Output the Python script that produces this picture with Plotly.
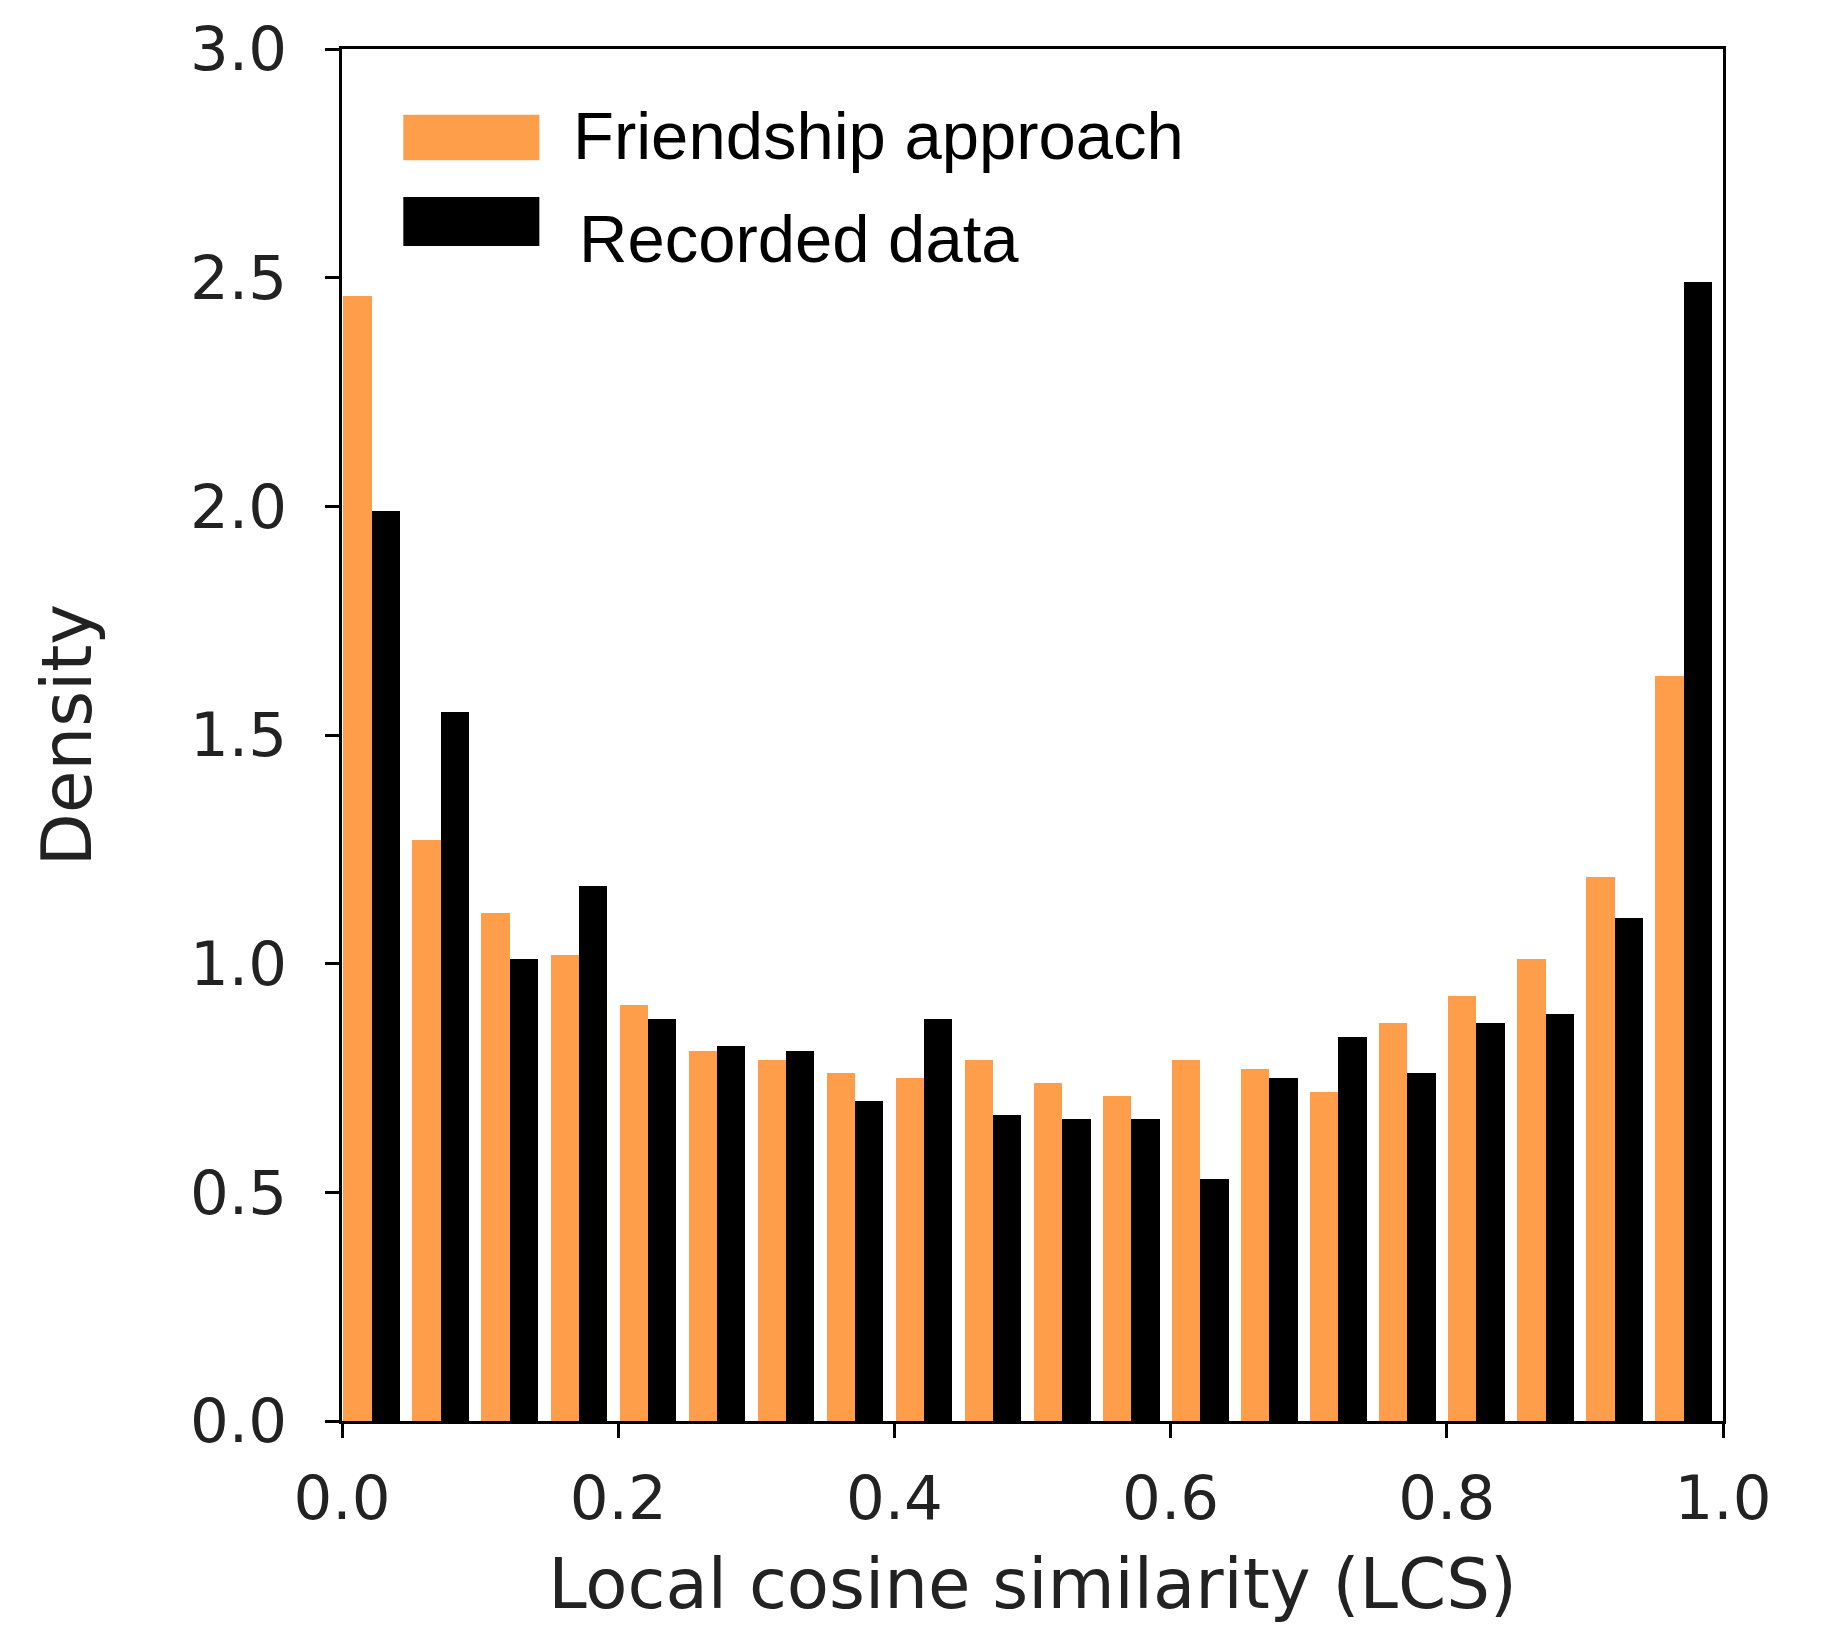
import numpy as np
import plotly.graph_objects as go

# Histogram bins over the LCS range
bin_edges = np.linspace(0.0, 1.0, 21)
bin_left = bin_edges[:-1]
bin_width = bin_edges[1] - bin_edges[0]

# Density per bin
friendship = [2.46, 1.27, 1.11, 1.02, 0.91, 0.81, 0.79, 0.76, 0.75, 0.79,
              0.74, 0.71, 0.79, 0.77, 0.72, 0.87, 0.93, 1.01, 1.19, 1.63]
recorded = [1.99, 1.55, 1.01, 1.17, 0.88, 0.82, 0.81, 0.70, 0.88, 0.67,
            0.66, 0.66, 0.53, 0.75, 0.84, 0.76, 0.87, 0.89, 1.10, 2.49]

series_names = ["Friendship approach", "Recorded data"]
series_colors = ["#FE9D4A", "#000000"]

x_ticks = [0.0, 0.2, 0.4, 0.6, 0.8, 1.0]
y_ticks = [0.0, 0.5, 1.0, 1.5, 2.0, 2.5, 3.0]

bar_w = 0.41 * bin_width
fig = go.Figure()
for i, (name, vals, col) in enumerate(zip(series_names, [friendship, recorded], series_colors)):
    fig.add_trace(go.Bar(
        x=bin_left, y=vals, name=name,
        width=bar_w, offset=0.02 * bin_width + i * bar_w,
        marker=dict(color=col, line=dict(width=0)),
        showlegend=False,
    ))

tick_font = dict(family="DejaVu Sans", size=61, color="#222222")
title_font = dict(family="DejaVu Sans", size=69, color="#222222")

fig.update_layout(
    width=1828, height=1628,
    margin=dict(l=342, r=105, t=49, b=207),
    plot_bgcolor="white", paper_bgcolor="white",
    barmode="overlay", bargap=0,
)
fig.update_xaxes(
    range=[0, 1], tickvals=x_ticks, tickformat=".1f",
    ticks="outside", ticklen=14, tickwidth=2.5, tickcolor="black",
    showline=True, linecolor="black", linewidth=2.5, mirror=True,
    showgrid=False, zeroline=False, tickfont=tick_font,
    ticklabelstandoff=8,
    title=dict(text="Local cosine similarity (LCS)", font=title_font, standoff=28),
)
fig.update_yaxes(
    range=[0, 3], tickvals=y_ticks, tickformat=".1f",
    ticks="outside", ticklen=14, tickwidth=2.5, tickcolor="black",
    showline=True, linecolor="black", linewidth=2.5, mirror=True,
    showgrid=False, zeroline=False, tickfont=tick_font,
    ticklabelstandoff=26,
    title=dict(text="Density", font=title_font, standoff=76),
)

# Legend drawn as wide colour patches with labels
legend_rows = [(0.919, 0.952, 0.9373, 0.166), (0.8564, 0.8921, 0.8622, 0.170)]
for (y0, y1, ty, tx), name, col in zip(legend_rows, series_names, series_colors):
    fig.add_shape(type="rect", xref="paper", yref="paper",
                  x0=0.0444, x1=0.1429, y0=y0, y1=y1,
                  fillcolor=col, line=dict(width=0))
    fig.add_annotation(xref="paper", yref="paper", x=tx, y=ty,
                       text=name, showarrow=False, xanchor="left", yanchor="middle",
                       font=dict(family="Liberation Sans", size=67, color="black"))

fig.write_html("out.html")
